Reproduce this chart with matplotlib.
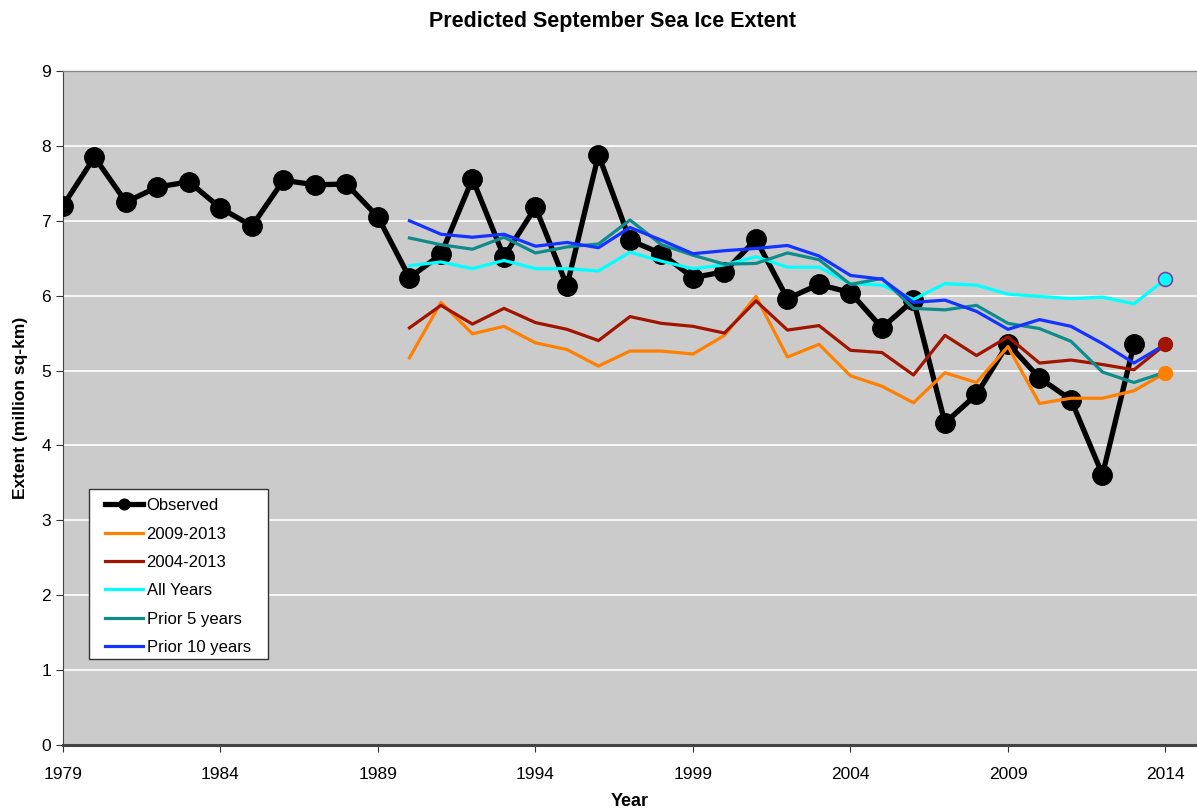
import matplotlib.pyplot as plt
from matplotlib.patches import Rectangle

plt.rcParams['font.family'] = ['Liberation Sans', 'DejaVu Sans']

# Observed September extent, 1979-2013
obs_years = list(range(1979, 2014))
observed = [7.20, 7.85, 7.25, 7.45, 7.52, 7.17, 6.93, 7.54, 7.48, 7.49,
            7.05, 6.24, 6.55, 7.56, 6.52, 7.18, 6.13, 7.88, 6.74, 6.56,
            6.24, 6.32, 6.75, 5.96, 6.15, 6.04, 5.57, 5.94, 4.30, 4.68,
            5.36, 4.90, 4.61, 3.61, 5.35]

# Predictions, 1990-2014
pred_years = list(range(1990, 2015))
pred_0913 = [5.17, 5.91, 5.49, 5.59, 5.37, 5.28, 5.06, 5.26, 5.26, 5.22,
             5.47, 5.99, 5.18, 5.35, 4.93, 4.79, 4.57, 4.97, 4.84, 5.32,
             4.56, 4.63, 4.63, 4.73, 4.97]
pred_0413 = [5.57, 5.87, 5.62, 5.83, 5.64, 5.55, 5.40, 5.72, 5.63, 5.59,
             5.50, 5.93, 5.54, 5.60, 5.27, 5.24, 4.94, 5.47, 5.20, 5.45,
             5.10, 5.14, 5.08, 5.01, 5.35]
pred_all = [6.40, 6.45, 6.36, 6.47, 6.36, 6.36, 6.33, 6.58, 6.46, 6.36,
            6.41, 6.52, 6.38, 6.38, 6.16, 6.14, 5.95, 6.16, 6.14, 6.02,
            5.99, 5.96, 5.98, 5.89, 6.22]
pred_5yr = [6.77, 6.68, 6.62, 6.78, 6.57, 6.65, 6.69, 7.01, 6.68, 6.54,
            6.42, 6.43, 6.57, 6.48, 6.15, 6.23, 5.83, 5.81, 5.87, 5.63,
            5.56, 5.39, 4.98, 4.84, 4.98]
pred_10yr = [7.00, 6.82, 6.78, 6.82, 6.66, 6.71, 6.64, 6.91, 6.74, 6.56,
             6.60, 6.63, 6.67, 6.53, 6.27, 6.22, 5.91, 5.94, 5.79, 5.55,
             5.68, 5.59, 5.36, 5.10, 5.35]

fig = plt.figure(figsize=(11.97, 8.11), dpi=100)
ax = fig.add_axes([0.0526, 0.0814, 0.9474, 0.8311])
ax.set_facecolor('#cbcbcb')

ax.plot(obs_years, observed, color='black', lw=3.8, marker='o', ms=14,
        label='Observed', zorder=3)

series = [
    (pred_0913, '#ff7f00', '2009-2013'),
    (pred_0413, '#a01400', '2004-2013'),
    (pred_all, '#00ffff', 'All Years'),
    (pred_5yr, '#0e8c8c', 'Prior 5 years'),
    (pred_10yr, '#1433ff', 'Prior 10 years'),
]
for vals, col, lab in series:
    ax.plot(pred_years, vals, color=col, lw=2.3, label=lab, zorder=4)

# 2014 prediction markers
ax.plot(pred_years[-1], pred_0913[-1], 'o', color='#ff7f00', ms=10, zorder=6)
ax.plot(pred_years[-1], pred_0413[-1], 'o', color='#a01400', ms=10, zorder=6)
ax.plot(pred_years[-1], pred_all[-1], 'o', mfc='#00ffff', mec='#8040a0',
        mew=1.2, ms=10, zorder=6)

ax.set_xlim(1979, 2015)
ax.set_ylim(0, 9)
ax.set_xticks(range(1979, 2015, 5))
ax.set_yticks(range(0, 10))
ax.yaxis.grid(True, color='white', lw=1.2)
ax.set_axisbelow(True)
ax.tick_params(axis='both', direction='out', labelsize=12.5, length=5,
               color='#333333')
ax.tick_params(axis='x', pad=11)

ax.spines['right'].set_visible(False)
ax.spines['top'].set_color('#888888')
ax.spines['top'].set_linewidth(1.0)
ax.spines['left'].set_color('#444444')
ax.spines['bottom'].set_color('#444444')
ax.spines['bottom'].set_linewidth(2.2)

ttl = ax.set_title('Predicted September Sea Ice Extent', fontsize=15.5,
                   fontweight='bold', pad=32)
ttl.set_x(0.485)
ax.set_xlabel('Year', fontsize=13, fontweight='bold')
ax.xaxis.set_label_coords(0.5, -0.071)
ax.set_ylabel('Extent (million sq-km)', fontsize=12.5, fontweight='bold',
              labelpad=10)

# legend box
box = Rectangle((0.023, 0.128), 179 / 1134, 170 / 674, transform=ax.transAxes,
                facecolor='white', edgecolor='#333333', lw=1.0, zorder=7)
ax.add_patch(box)
leg = ax.legend(loc='upper left', bbox_to_anchor=(0.037, 0.366),
                fontsize=12, frameon=False, markerscale=0.55,
                labelspacing=0.8, handlelength=2.3, handletextpad=0.2,
                borderpad=0, borderaxespad=0)
leg.set_zorder(8)

fig.savefig('out.png', dpi=100)
